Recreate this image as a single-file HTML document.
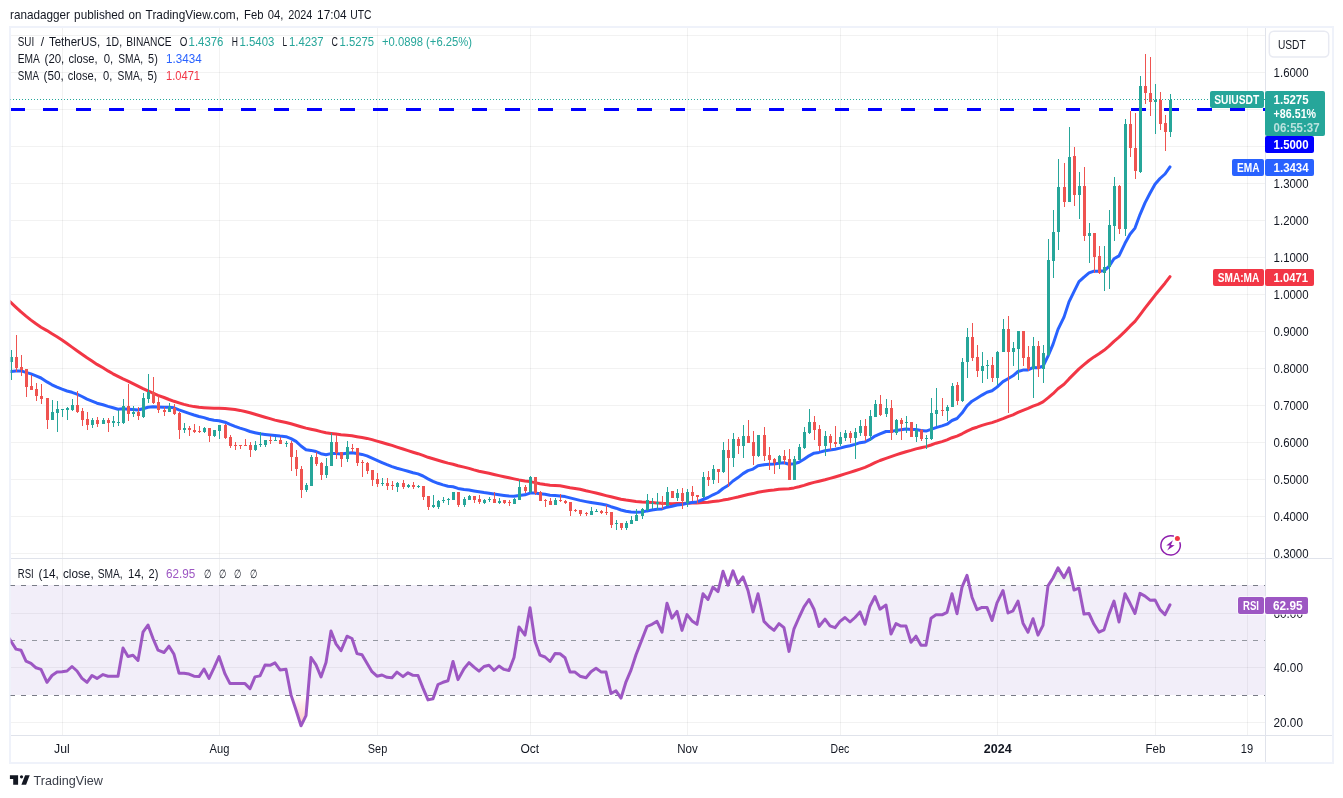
<!DOCTYPE html>
<html lang="en"><head><meta charset="utf-8"><title>SUIUSDT chart</title>
<style>html,body{margin:0;padding:0;background:#fff}body{width:1343px;height:798px;overflow:hidden;position:relative}svg{position:absolute;left:0;top:0;display:block;will-change:transform}text{font-family:"Liberation Sans", sans-serif;white-space:pre}</style></head><body>
<svg width="1343" height="798" viewBox="0 0 1343 798">
<defs>
<clipPath id="cm"><rect x="10" y="28" width="1255" height="530"/></clipPath>
<clipPath id="cr"><rect x="10" y="559" width="1255" height="176"/></clipPath>
<linearGradient id="gob" x1="0" y1="559" x2="0" y2="585" gradientUnits="userSpaceOnUse"><stop offset="0" stop-color="#4caf50" stop-opacity="0.35"/><stop offset="1" stop-color="#4caf50" stop-opacity="0"/></linearGradient>
<linearGradient id="gos" x1="0" y1="695" x2="0" y2="735" gradientUnits="userSpaceOnUse"><stop offset="0" stop-color="#ff5252" stop-opacity="0"/><stop offset="1" stop-color="#ff5252" stop-opacity="0.45"/></linearGradient>
</defs>
<rect x="0" y="0" width="1343" height="798" fill="#fff"/>
<text x="10.1" y="18.7" font-size="13" fill="#131722" textLength="59.8" lengthAdjust="spacingAndGlyphs">ranadagger</text>
<text x="74.1" y="18.7" font-size="13" fill="#131722" textLength="50.3" lengthAdjust="spacingAndGlyphs">published</text>
<text x="128.5" y="18.7" font-size="13" fill="#131722" textLength="12.9" lengthAdjust="spacingAndGlyphs">on</text>
<text x="145.6" y="18.7" font-size="13" fill="#131722" textLength="93.4" lengthAdjust="spacingAndGlyphs">TradingView.com,</text>
<text x="244.1" y="18.7" font-size="13" fill="#131722" textLength="19.4" lengthAdjust="spacingAndGlyphs">Feb</text>
<text x="267.8" y="18.7" font-size="13" fill="#131722" textLength="15.7" lengthAdjust="spacingAndGlyphs">04,</text>
<text x="288.2" y="18.7" font-size="13" fill="#131722" textLength="24.1" lengthAdjust="spacingAndGlyphs">2024</text>
<text x="317.1" y="18.7" font-size="13" fill="#131722" textLength="29.6" lengthAdjust="spacingAndGlyphs">17:04</text>
<text x="350.2" y="18.7" font-size="13" fill="#131722" textLength="21.3" lengthAdjust="spacingAndGlyphs">UTC</text>
<g shape-rendering="crispEdges" fill="#283232" fill-opacity="0.062">
<rect x="62" y="28" width="1" height="530"/>
<rect x="62" y="559" width="1" height="176"/>
<rect x="219" y="28" width="1" height="530"/>
<rect x="219" y="559" width="1" height="176"/>
<rect x="377" y="28" width="1" height="530"/>
<rect x="377" y="559" width="1" height="176"/>
<rect x="530" y="28" width="1" height="530"/>
<rect x="530" y="559" width="1" height="176"/>
<rect x="687" y="28" width="1" height="530"/>
<rect x="687" y="559" width="1" height="176"/>
<rect x="840" y="28" width="1" height="530"/>
<rect x="840" y="559" width="1" height="176"/>
<rect x="997" y="28" width="1" height="530"/>
<rect x="997" y="559" width="1" height="176"/>
<rect x="1155" y="28" width="1" height="530"/>
<rect x="1155" y="559" width="1" height="176"/>
<rect x="1247" y="28" width="1" height="530"/>
<rect x="1247" y="559" width="1" height="176"/>
<rect x="11" y="35" width="1254" height="1"/>
<rect x="11" y="72" width="1254" height="1"/>
<rect x="11" y="109" width="1254" height="1"/>
<rect x="11" y="146" width="1254" height="1"/>
<rect x="11" y="183" width="1254" height="1"/>
<rect x="11" y="220" width="1254" height="1"/>
<rect x="11" y="257" width="1254" height="1"/>
<rect x="11" y="294" width="1254" height="1"/>
<rect x="11" y="331" width="1254" height="1"/>
<rect x="11" y="368" width="1254" height="1"/>
<rect x="11" y="405" width="1254" height="1"/>
<rect x="11" y="442" width="1254" height="1"/>
<rect x="11" y="479" width="1254" height="1"/>
<rect x="11" y="516" width="1254" height="1"/>
<rect x="11" y="553" width="1254" height="1"/>
<rect x="11" y="613" width="1254" height="1"/>
<rect x="11" y="667" width="1254" height="1"/>
<rect x="11" y="722" width="1254" height="1"/>
</g>
<rect x="11" y="585" width="1254" height="110" fill="#7e57c2" fill-opacity="0.1"/>
<g shape-rendering="crispEdges" fill="#e0e3eb">
<rect x="11" y="558" width="1321" height="1"/>
<rect x="11" y="735" width="1321" height="1"/>
<rect x="1265" y="28" width="1" height="734"/>
</g>
<line x1="10" y1="585.5" x2="1265" y2="585.5" stroke="#787b86" stroke-width="1" stroke-dasharray="5 6" shape-rendering="crispEdges"/>
<line x1="10" y1="640.5" x2="1265" y2="640.5" stroke="#9598a1" stroke-width="1" stroke-dasharray="5 6" shape-rendering="crispEdges"/>
<line x1="10" y1="695.5" x2="1265" y2="695.5" stroke="#787b86" stroke-width="1" stroke-dasharray="5 6" shape-rendering="crispEdges"/>
<g clip-path="url(#cm)">
<line x1="10.5" y1="109.5" x2="1265" y2="109.5" stroke="#0000ff" stroke-width="3" stroke-dasharray="14.7 18.27" shape-rendering="crispEdges"/>
<polyline points="5.9,298.0 11.0,302.7 16.0,307.4 21.0,311.9 26.0,316.1 31.0,320.1 36.0,323.8 41.0,327.2 47.0,330.6 52.0,333.8 57.0,336.8 62.0,340.0 67.0,343.5 72.0,347.1 77.0,350.7 82.0,354.3 87.0,357.8 92.0,361.1 97.0,364.4 103.0,367.8 108.0,370.9 113.0,373.8 118.0,376.4 123.0,378.9 128.0,381.2 133.0,383.6 138.0,386.1 143.0,388.6 148.0,390.9 153.0,393.1 158.0,395.4 164.0,397.5 169.0,399.5 174.0,401.3 179.0,402.9 184.0,404.4 189.0,405.6 194.0,406.6 199.0,407.3 204.0,407.7 209.0,408.0 214.0,408.2 219.0,408.3 225.0,408.5 230.0,408.9 235.0,409.5 240.0,410.4 245.0,411.5 250.0,412.7 255.0,414.2 260.0,415.7 265.0,417.2 270.0,418.6 275.0,420.1 280.0,421.2 286.0,422.5 291.0,423.8 296.0,425.2 301.0,426.7 306.0,428.1 311.0,429.2 316.0,430.3 321.0,431.6 326.0,432.8 331.0,433.5 336.0,434.1 341.0,434.8 347.0,435.3 352.0,435.8 357.0,436.7 362.0,437.5 367.0,438.4 372.0,439.6 377.0,441.1 382.0,442.5 387.0,444.0 392.0,445.4 397.0,447.1 403.0,449.0 408.0,450.6 413.0,452.2 418.0,453.7 423.0,455.4 428.0,457.3 433.0,458.8 438.0,460.3 443.0,461.7 448.0,463.1 453.0,464.3 458.0,465.8 464.0,467.1 469.0,468.4 474.0,469.9 479.0,471.2 484.0,472.3 489.0,473.3 494.0,474.5 499.0,475.6 504.0,476.7 509.0,477.8 514.0,478.9 519.0,479.9 525.0,480.9 530.0,481.6 535.0,482.6 540.0,483.7 545.0,484.6 550.0,485.3 555.0,485.5 560.0,485.8 565.0,486.7 570.0,487.7 575.0,488.4 580.0,489.3 586.0,490.8 591.0,491.9 596.0,493.0 601.0,494.3 606.0,495.6 611.0,496.8 616.0,498.0 621.0,499.2 626.0,500.1 631.0,500.8 636.0,501.4 642.0,501.9 647.0,502.2 652.0,502.6 657.0,502.9 662.0,503.3 667.0,503.5 672.0,503.7 677.0,503.6 682.0,503.5 687.0,503.2 692.0,503.1 697.0,503.0 703.0,502.6 708.0,502.3 713.0,501.6 718.0,501.1 723.0,500.1 728.0,499.3 733.0,498.1 738.0,497.0 743.0,495.7 748.0,494.5 753.0,493.6 758.0,492.2 764.0,491.3 769.0,490.5 774.0,490.0 779.0,489.3 784.0,489.0 789.0,488.7 794.0,487.9 799.0,486.8 804.0,485.4 809.0,483.8 814.0,482.4 819.0,481.2 825.0,479.8 830.0,478.4 835.0,477.0 840.0,475.5 845.0,473.9 850.0,472.4 855.0,470.8 860.0,469.1 865.0,467.3 870.0,465.2 875.0,462.7 880.0,460.5 886.0,458.3 891.0,456.6 896.0,454.9 901.0,453.3 906.0,451.7 911.0,450.4 916.0,448.9 921.0,447.8 926.0,446.6 931.0,445.0 936.0,443.2 942.0,441.6 947.0,439.8 952.0,437.7 957.0,436.1 962.0,433.8 967.0,431.1 972.0,428.8 977.0,427.2 982.0,425.4 987.0,423.9 992.0,422.6 997.0,420.9 1003.0,418.7 1008.0,416.6 1013.0,414.8 1018.0,412.4 1023.0,410.3 1028.0,408.4 1033.0,406.2 1038.0,404.4 1043.0,401.9 1048.0,397.9 1053.0,393.7 1058.0,388.7 1064.0,384.3 1069.0,378.9 1074.0,373.9 1079.0,368.9 1084.0,364.7 1089.0,360.5 1094.0,356.9 1099.0,353.7 1104.0,350.3 1109.0,346.1 1114.0,341.3 1119.0,337.2 1125.0,331.4 1130.0,326.2 1135.0,321.4 1140.0,314.9 1145.0,308.1 1150.0,301.8 1155.0,295.3 1160.0,289.3 1165.0,283.2 1170.0,276.6" fill="none" stroke="#f23645" stroke-width="3" stroke-linejoin="round" stroke-linecap="round"/>
<polyline points="5.9,371.9 11.0,371.5 16.0,371.1 21.0,370.9 26.0,372.4 31.0,373.9 36.0,375.9 41.0,378.0 47.0,381.9 52.0,384.8 57.0,387.1 62.0,389.2 67.0,391.0 72.0,392.3 77.0,394.1 82.0,396.5 87.0,399.1 92.0,401.1 97.0,403.2 103.0,404.8 108.0,406.4 113.0,407.8 118.0,409.2 123.0,408.8 128.0,409.2 133.0,409.5 138.0,410.0 143.0,408.8 148.0,407.2 153.0,406.7 158.0,407.0 164.0,407.3 169.0,407.3 174.0,407.8 179.0,409.8 184.0,411.6 189.0,413.3 194.0,415.0 199.0,416.5 204.0,417.6 209.0,419.2 214.0,420.3 219.0,420.7 225.0,422.2 230.0,424.4 235.0,426.4 240.0,428.1 245.0,429.6 250.0,431.5 255.0,432.7 260.0,433.8 265.0,434.4 270.0,434.9 275.0,435.4 280.0,436.1 286.0,436.7 291.0,438.6 296.0,441.4 301.0,446.0 306.0,449.7 311.0,450.4 316.0,451.5 321.0,453.7 326.0,454.8 331.0,453.6 336.0,453.5 341.0,453.9 347.0,453.2 352.0,452.7 357.0,453.6 362.0,454.4 367.0,455.9 372.0,458.1 377.0,460.4 382.0,462.6 387.0,464.7 392.0,466.6 397.0,468.2 403.0,469.9 408.0,471.3 413.0,472.7 418.0,473.9 423.0,476.0 428.0,478.9 433.0,481.4 438.0,483.3 443.0,484.9 448.0,486.2 453.0,486.8 458.0,488.4 464.0,489.4 469.0,490.0 474.0,490.9 479.0,491.8 484.0,492.6 489.0,493.2 494.0,494.0 499.0,494.7 504.0,495.4 509.0,496.0 514.0,496.3 519.0,495.4 525.0,494.8 530.0,493.1 535.0,493.0 540.0,493.7 545.0,494.3 550.0,495.2 555.0,495.6 560.0,496.1 565.0,496.6 570.0,497.9 575.0,499.1 580.0,500.4 586.0,501.6 591.0,502.5 596.0,503.3 601.0,504.1 606.0,504.9 611.0,506.7 616.0,508.2 621.0,510.0 626.0,511.2 631.0,512.1 636.0,512.3 642.0,512.0 647.0,510.9 652.0,510.1 657.0,509.3 662.0,508.9 667.0,507.2 672.0,506.3 677.0,505.0 682.0,504.5 687.0,503.3 692.0,502.5 697.0,501.9 703.0,499.5 708.0,497.5 713.0,494.8 718.0,492.5 723.0,488.5 728.0,485.5 733.0,481.0 738.0,477.6 743.0,473.6 748.0,470.6 753.0,469.1 758.0,465.8 764.0,464.8 769.0,464.2 774.0,464.0 779.0,463.2 784.0,462.8 789.0,464.3 794.0,463.8 799.0,462.2 804.0,459.3 809.0,455.8 814.0,453.2 819.0,452.4 825.0,450.8 830.0,450.0 835.0,449.3 840.0,448.1 845.0,446.7 850.0,445.7 855.0,444.4 860.0,442.7 865.0,441.9 870.0,439.4 875.0,436.1 880.0,433.9 886.0,431.5 891.0,431.5 896.0,430.4 901.0,429.7 906.0,428.9 911.0,429.6 916.0,429.6 921.0,430.4 926.0,431.1 931.0,429.4 936.0,427.6 942.0,425.9 947.0,424.2 952.0,420.5 957.0,418.5 962.0,413.1 967.0,405.9 972.0,401.2 977.0,398.2 982.0,395.1 987.0,392.2 992.0,390.8 997.0,387.1 1003.0,381.6 1008.0,378.7 1013.0,375.8 1018.0,371.5 1023.0,370.1 1028.0,369.9 1033.0,367.6 1038.0,367.7 1043.0,366.3 1048.0,356.2 1053.0,344.4 1058.0,329.4 1064.0,317.1 1069.0,301.9 1074.0,291.6 1079.0,281.6 1084.0,277.1 1089.0,272.9 1094.0,271.2 1099.0,271.3 1104.0,270.8 1109.0,266.5 1114.0,258.8 1119.0,255.9 1125.0,243.3 1130.0,234.2 1135.0,228.1 1140.0,214.6 1145.0,202.9 1150.0,193.3 1155.0,184.3 1160.0,178.5 1165.0,174.0 1170.0,166.9" fill="none" stroke="#2962ff" stroke-width="3" stroke-linejoin="round" stroke-linecap="round"/>
<g shape-rendering="crispEdges" fill="#ef5350"><rect x="16" y="335" width="1" height="37"/><rect x="15" y="357" width="3" height="11"/><rect x="21" y="355" width="1" height="21"/><rect x="20" y="367" width="3" height="3"/><rect x="26" y="369" width="1" height="28"/><rect x="25" y="369" width="3" height="18"/><rect x="31" y="375" width="1" height="15"/><rect x="30" y="386" width="3" height="4"/><rect x="36" y="383" width="1" height="18"/><rect x="35" y="389" width="3" height="7"/><rect x="41" y="384" width="1" height="20"/><rect x="40" y="396" width="3" height="3"/><rect x="47" y="398" width="1" height="31"/><rect x="46" y="398" width="3" height="22"/><rect x="77" y="391" width="1" height="22"/><rect x="76" y="405" width="3" height="7"/><rect x="82" y="408" width="1" height="18"/><rect x="81" y="411" width="3" height="9"/><rect x="87" y="412" width="1" height="18"/><rect x="86" y="419" width="3" height="6"/><rect x="97" y="417" width="1" height="10"/><rect x="96" y="420" width="3" height="4"/><rect x="108" y="418" width="1" height="14"/><rect x="107" y="420" width="3" height="3"/><rect x="128" y="384" width="1" height="37"/><rect x="127" y="406" width="3" height="8"/><rect x="138" y="407" width="1" height="13"/><rect x="137" y="412" width="3" height="4"/><rect x="153" y="377" width="1" height="27"/><rect x="152" y="392" width="3" height="11"/><rect x="158" y="396" width="1" height="17"/><rect x="157" y="402" width="3" height="8"/><rect x="164" y="407" width="1" height="9"/><rect x="163" y="410" width="3" height="2"/><rect x="174" y="404" width="1" height="11"/><rect x="173" y="408" width="3" height="6"/><rect x="179" y="412" width="1" height="27"/><rect x="178" y="413" width="3" height="17"/><rect x="189" y="426" width="1" height="10"/><rect x="188" y="428" width="3" height="2"/><rect x="194" y="424" width="1" height="9"/><rect x="193" y="430" width="3" height="2"/><rect x="199" y="426" width="1" height="7"/><rect x="198" y="431" width="3" height="1"/><rect x="209" y="428" width="1" height="14"/><rect x="208" y="428" width="3" height="8"/><rect x="225" y="424" width="1" height="15"/><rect x="224" y="425" width="3" height="13"/><rect x="230" y="435" width="1" height="13"/><rect x="229" y="437" width="3" height="9"/><rect x="235" y="442" width="1" height="8"/><rect x="234" y="445" width="3" height="1"/><rect x="240" y="445" width="1" height="4"/><rect x="239" y="445" width="3" height="1"/><rect x="245" y="439" width="1" height="7"/><rect x="244" y="445" width="3" height="1"/><rect x="250" y="442" width="1" height="15"/><rect x="249" y="445" width="3" height="5"/><rect x="270" y="436" width="1" height="8"/><rect x="269" y="440" width="3" height="1"/><rect x="280" y="437" width="1" height="7"/><rect x="279" y="440" width="3" height="4"/><rect x="291" y="441" width="1" height="30"/><rect x="290" y="443" width="3" height="14"/><rect x="296" y="450" width="1" height="26"/><rect x="295" y="457" width="3" height="12"/><rect x="301" y="466" width="1" height="32"/><rect x="300" y="469" width="3" height="21"/><rect x="316" y="452" width="1" height="14"/><rect x="315" y="457" width="3" height="7"/><rect x="321" y="462" width="1" height="18"/><rect x="320" y="463" width="3" height="12"/><rect x="336" y="435" width="1" height="24"/><rect x="335" y="442" width="3" height="11"/><rect x="341" y="452" width="1" height="15"/><rect x="340" y="452" width="3" height="7"/><rect x="352" y="444" width="1" height="8"/><rect x="351" y="448" width="3" height="1"/><rect x="357" y="448" width="1" height="18"/><rect x="356" y="448" width="3" height="15"/><rect x="362" y="460" width="1" height="17"/><rect x="361" y="462" width="3" height="1"/><rect x="367" y="462" width="1" height="12"/><rect x="366" y="463" width="3" height="8"/><rect x="372" y="470" width="1" height="16"/><rect x="371" y="470" width="3" height="10"/><rect x="377" y="473" width="1" height="14"/><rect x="376" y="479" width="3" height="5"/><rect x="387" y="478" width="1" height="12"/><rect x="386" y="483" width="3" height="3"/><rect x="392" y="481" width="1" height="9"/><rect x="391" y="485" width="3" height="1"/><rect x="403" y="480" width="1" height="9"/><rect x="402" y="483" width="3" height="4"/><rect x="413" y="482" width="1" height="7"/><rect x="412" y="485" width="3" height="2"/><rect x="423" y="486" width="1" height="14"/><rect x="422" y="486" width="3" height="11"/><rect x="428" y="496" width="1" height="14"/><rect x="427" y="496" width="3" height="11"/><rect x="458" y="492" width="1" height="15"/><rect x="457" y="492" width="3" height="13"/><rect x="474" y="496" width="1" height="7"/><rect x="473" y="496" width="3" height="4"/><rect x="479" y="495" width="1" height="9"/><rect x="478" y="499" width="3" height="3"/><rect x="494" y="492" width="1" height="11"/><rect x="493" y="499" width="3" height="4"/><rect x="504" y="500" width="1" height="4"/><rect x="503" y="500" width="3" height="3"/><rect x="509" y="500" width="1" height="6"/><rect x="508" y="502" width="3" height="1"/><rect x="525" y="485" width="1" height="8"/><rect x="524" y="487" width="3" height="4"/><rect x="535" y="477" width="1" height="18"/><rect x="534" y="477" width="3" height="16"/><rect x="540" y="491" width="1" height="10"/><rect x="539" y="492" width="3" height="9"/><rect x="545" y="499" width="1" height="8"/><rect x="544" y="500" width="3" height="1"/><rect x="550" y="498" width="1" height="7"/><rect x="549" y="501" width="3" height="4"/><rect x="560" y="494" width="1" height="8"/><rect x="559" y="500" width="3" height="1"/><rect x="565" y="500" width="1" height="4"/><rect x="564" y="501" width="3" height="2"/><rect x="570" y="502" width="1" height="14"/><rect x="569" y="502" width="3" height="9"/><rect x="575" y="509" width="1" height="3"/><rect x="574" y="510" width="3" height="1"/><rect x="580" y="510" width="1" height="6"/><rect x="579" y="510" width="3" height="4"/><rect x="586" y="512" width="1" height="4"/><rect x="585" y="513" width="3" height="1"/><rect x="601" y="510" width="1" height="4"/><rect x="600" y="511" width="3" height="2"/><rect x="606" y="505" width="1" height="10"/><rect x="605" y="512" width="3" height="1"/><rect x="611" y="512" width="1" height="16"/><rect x="610" y="512" width="3" height="13"/><rect x="621" y="523" width="1" height="7"/><rect x="620" y="523" width="3" height="5"/><rect x="662" y="496" width="1" height="13"/><rect x="661" y="502" width="3" height="3"/><rect x="672" y="491" width="1" height="7"/><rect x="671" y="491" width="3" height="7"/><rect x="682" y="488" width="1" height="21"/><rect x="681" y="493" width="3" height="8"/><rect x="692" y="486" width="1" height="15"/><rect x="691" y="492" width="3" height="4"/><rect x="697" y="495" width="1" height="9"/><rect x="696" y="495" width="3" height="2"/><rect x="708" y="471" width="1" height="15"/><rect x="707" y="477" width="3" height="3"/><rect x="718" y="469" width="1" height="14"/><rect x="717" y="469" width="3" height="3"/><rect x="728" y="439" width="1" height="48"/><rect x="727" y="450" width="3" height="8"/><rect x="738" y="437" width="1" height="17"/><rect x="737" y="439" width="3" height="7"/><rect x="748" y="420" width="1" height="23"/><rect x="747" y="436" width="3" height="7"/><rect x="753" y="431" width="1" height="34"/><rect x="752" y="442" width="3" height="14"/><rect x="764" y="427" width="1" height="34"/><rect x="763" y="435" width="3" height="21"/><rect x="769" y="447" width="1" height="23"/><rect x="768" y="455" width="3" height="5"/><rect x="774" y="458" width="1" height="16"/><rect x="773" y="459" width="3" height="4"/><rect x="784" y="450" width="1" height="14"/><rect x="783" y="456" width="3" height="4"/><rect x="789" y="449" width="1" height="31"/><rect x="788" y="459" width="3" height="21"/><rect x="814" y="416" width="1" height="24"/><rect x="813" y="422" width="3" height="8"/><rect x="819" y="425" width="1" height="26"/><rect x="818" y="429" width="3" height="17"/><rect x="830" y="434" width="1" height="16"/><rect x="829" y="436" width="3" height="7"/><rect x="835" y="426" width="1" height="21"/><rect x="834" y="442" width="3" height="2"/><rect x="850" y="431" width="1" height="12"/><rect x="849" y="433" width="3" height="5"/><rect x="865" y="419" width="1" height="22"/><rect x="864" y="426" width="3" height="10"/><rect x="880" y="395" width="1" height="21"/><rect x="879" y="404" width="3" height="11"/><rect x="891" y="400" width="1" height="40"/><rect x="890" y="408" width="3" height="25"/><rect x="901" y="418" width="1" height="22"/><rect x="900" y="420" width="3" height="4"/><rect x="911" y="422" width="1" height="15"/><rect x="910" y="422" width="3" height="15"/><rect x="921" y="429" width="1" height="12"/><rect x="920" y="430" width="3" height="9"/><rect x="942" y="398" width="1" height="18"/><rect x="941" y="410" width="3" height="1"/><rect x="957" y="382" width="1" height="23"/><rect x="956" y="385" width="3" height="16"/><rect x="972" y="323" width="1" height="38"/><rect x="971" y="337" width="3" height="21"/><rect x="977" y="345" width="1" height="32"/><rect x="976" y="357" width="3" height="14"/><rect x="992" y="357" width="1" height="25"/><rect x="991" y="365" width="3" height="13"/><rect x="1008" y="316" width="1" height="97"/><rect x="1007" y="329" width="3" height="23"/><rect x="1023" y="331" width="1" height="35"/><rect x="1022" y="331" width="3" height="27"/><rect x="1028" y="346" width="1" height="25"/><rect x="1027" y="357" width="3" height="12"/><rect x="1038" y="341" width="1" height="36"/><rect x="1037" y="346" width="3" height="23"/><rect x="1064" y="163" width="1" height="44"/><rect x="1063" y="187" width="3" height="15"/><rect x="1074" y="147" width="1" height="59"/><rect x="1073" y="156" width="3" height="39"/><rect x="1084" y="167" width="1" height="74"/><rect x="1083" y="186" width="3" height="50"/><rect x="1094" y="233" width="1" height="40"/><rect x="1093" y="233" width="3" height="24"/><rect x="1099" y="246" width="1" height="28"/><rect x="1098" y="256" width="3" height="17"/><rect x="1119" y="185" width="1" height="49"/><rect x="1118" y="186" width="3" height="43"/><rect x="1130" y="111" width="1" height="46"/><rect x="1129" y="124" width="3" height="24"/><rect x="1135" y="113" width="1" height="66"/><rect x="1134" y="148" width="3" height="23"/><rect x="1145" y="54" width="1" height="50"/><rect x="1144" y="86" width="3" height="7"/><rect x="1150" y="57" width="1" height="59"/><rect x="1149" y="93" width="3" height="9"/><rect x="1160" y="92" width="1" height="38"/><rect x="1159" y="100" width="3" height="24"/><rect x="1165" y="115" width="1" height="36"/><rect x="1164" y="123" width="3" height="9"/></g>
<g shape-rendering="crispEdges" fill="#26a69a"><rect x="11" y="350" width="1" height="30"/><rect x="10" y="357" width="3" height="5"/><rect x="52" y="400" width="1" height="20"/><rect x="51" y="412" width="3" height="8"/><rect x="57" y="401" width="1" height="31"/><rect x="56" y="409" width="3" height="4"/><rect x="62" y="409" width="1" height="8"/><rect x="61" y="409" width="3" height="1"/><rect x="67" y="407" width="1" height="13"/><rect x="66" y="408" width="3" height="2"/><rect x="72" y="399" width="1" height="12"/><rect x="71" y="405" width="3" height="5"/><rect x="92" y="418" width="1" height="10"/><rect x="91" y="420" width="3" height="5"/><rect x="103" y="418" width="1" height="6"/><rect x="102" y="420" width="3" height="4"/><rect x="113" y="416" width="1" height="11"/><rect x="112" y="421" width="3" height="2"/><rect x="118" y="410" width="1" height="16"/><rect x="117" y="422" width="3" height="1"/><rect x="123" y="399" width="1" height="25"/><rect x="122" y="406" width="3" height="17"/><rect x="133" y="406" width="1" height="11"/><rect x="132" y="412" width="3" height="2"/><rect x="143" y="393" width="1" height="25"/><rect x="142" y="398" width="3" height="19"/><rect x="148" y="374" width="1" height="29"/><rect x="147" y="392" width="3" height="7"/><rect x="169" y="403" width="1" height="9"/><rect x="168" y="407" width="3" height="5"/><rect x="184" y="423" width="1" height="10"/><rect x="183" y="428" width="3" height="2"/><rect x="204" y="427" width="1" height="6"/><rect x="203" y="428" width="3" height="4"/><rect x="214" y="430" width="1" height="7"/><rect x="213" y="430" width="3" height="6"/><rect x="219" y="425" width="1" height="14"/><rect x="218" y="425" width="3" height="6"/><rect x="255" y="441" width="1" height="10"/><rect x="254" y="445" width="3" height="5"/><rect x="260" y="432" width="1" height="15"/><rect x="259" y="444" width="3" height="1"/><rect x="265" y="440" width="1" height="7"/><rect x="264" y="440" width="3" height="5"/><rect x="275" y="437" width="1" height="4"/><rect x="274" y="440" width="3" height="1"/><rect x="286" y="441" width="1" height="6"/><rect x="285" y="443" width="3" height="1"/><rect x="306" y="483" width="1" height="9"/><rect x="305" y="485" width="3" height="5"/><rect x="311" y="455" width="1" height="31"/><rect x="310" y="457" width="3" height="29"/><rect x="326" y="458" width="1" height="20"/><rect x="325" y="466" width="3" height="9"/><rect x="331" y="433" width="1" height="33"/><rect x="330" y="442" width="3" height="24"/><rect x="347" y="441" width="1" height="21"/><rect x="346" y="447" width="3" height="12"/><rect x="382" y="478" width="1" height="8"/><rect x="381" y="483" width="3" height="1"/><rect x="397" y="482" width="1" height="10"/><rect x="396" y="483" width="3" height="4"/><rect x="408" y="484" width="1" height="4"/><rect x="407" y="485" width="3" height="2"/><rect x="418" y="485" width="1" height="3"/><rect x="417" y="486" width="3" height="1"/><rect x="433" y="495" width="1" height="13"/><rect x="432" y="505" width="3" height="2"/><rect x="438" y="500" width="1" height="9"/><rect x="437" y="501" width="3" height="6"/><rect x="443" y="497" width="1" height="6"/><rect x="442" y="500" width="3" height="1"/><rect x="448" y="498" width="1" height="7"/><rect x="447" y="499" width="3" height="1"/><rect x="453" y="492" width="1" height="8"/><rect x="452" y="492" width="3" height="8"/><rect x="464" y="497" width="1" height="10"/><rect x="463" y="499" width="3" height="6"/><rect x="469" y="495" width="1" height="5"/><rect x="468" y="496" width="3" height="4"/><rect x="484" y="499" width="1" height="5"/><rect x="483" y="500" width="3" height="3"/><rect x="489" y="497" width="1" height="5"/><rect x="488" y="499" width="3" height="1"/><rect x="499" y="498" width="1" height="6"/><rect x="498" y="501" width="3" height="2"/><rect x="514" y="498" width="1" height="6"/><rect x="513" y="499" width="3" height="5"/><rect x="519" y="480" width="1" height="20"/><rect x="518" y="487" width="3" height="13"/><rect x="530" y="476" width="1" height="17"/><rect x="529" y="477" width="3" height="15"/><rect x="555" y="498" width="1" height="7"/><rect x="554" y="500" width="3" height="5"/><rect x="591" y="507" width="1" height="8"/><rect x="590" y="511" width="3" height="4"/><rect x="596" y="509" width="1" height="3"/><rect x="595" y="511" width="3" height="1"/><rect x="616" y="520" width="1" height="10"/><rect x="615" y="523" width="3" height="1"/><rect x="626" y="521" width="1" height="9"/><rect x="625" y="523" width="3" height="5"/><rect x="631" y="516" width="1" height="8"/><rect x="630" y="520" width="3" height="4"/><rect x="636" y="509" width="1" height="12"/><rect x="635" y="515" width="3" height="6"/><rect x="642" y="508" width="1" height="11"/><rect x="641" y="509" width="3" height="7"/><rect x="647" y="494" width="1" height="17"/><rect x="646" y="500" width="3" height="10"/><rect x="652" y="498" width="1" height="11"/><rect x="651" y="503" width="3" height="1"/><rect x="657" y="493" width="1" height="17"/><rect x="656" y="502" width="3" height="2"/><rect x="667" y="487" width="1" height="19"/><rect x="666" y="492" width="3" height="14"/><rect x="677" y="489" width="1" height="12"/><rect x="676" y="493" width="3" height="5"/><rect x="687" y="489" width="1" height="18"/><rect x="686" y="492" width="3" height="11"/><rect x="703" y="472" width="1" height="26"/><rect x="702" y="477" width="3" height="20"/><rect x="713" y="465" width="1" height="19"/><rect x="712" y="469" width="3" height="11"/><rect x="723" y="442" width="1" height="31"/><rect x="722" y="450" width="3" height="22"/><rect x="733" y="433" width="1" height="34"/><rect x="732" y="439" width="3" height="19"/><rect x="743" y="425" width="1" height="33"/><rect x="742" y="436" width="3" height="10"/><rect x="758" y="435" width="1" height="22"/><rect x="757" y="435" width="3" height="21"/><rect x="779" y="455" width="1" height="14"/><rect x="778" y="456" width="3" height="7"/><rect x="794" y="456" width="1" height="24"/><rect x="793" y="459" width="3" height="21"/><rect x="799" y="444" width="1" height="16"/><rect x="798" y="447" width="3" height="13"/><rect x="804" y="427" width="1" height="22"/><rect x="803" y="432" width="3" height="16"/><rect x="809" y="409" width="1" height="25"/><rect x="808" y="422" width="3" height="11"/><rect x="825" y="431" width="1" height="25"/><rect x="824" y="436" width="3" height="10"/><rect x="840" y="432" width="1" height="14"/><rect x="839" y="437" width="3" height="7"/><rect x="845" y="430" width="1" height="11"/><rect x="844" y="433" width="3" height="5"/><rect x="855" y="428" width="1" height="31"/><rect x="854" y="432" width="3" height="6"/><rect x="860" y="420" width="1" height="16"/><rect x="859" y="426" width="3" height="7"/><rect x="870" y="410" width="1" height="31"/><rect x="869" y="416" width="3" height="20"/><rect x="875" y="400" width="1" height="17"/><rect x="874" y="404" width="3" height="13"/><rect x="886" y="399" width="1" height="18"/><rect x="885" y="408" width="3" height="6"/><rect x="896" y="419" width="1" height="16"/><rect x="895" y="420" width="3" height="13"/><rect x="906" y="416" width="1" height="17"/><rect x="905" y="422" width="3" height="1"/><rect x="916" y="424" width="1" height="18"/><rect x="915" y="430" width="3" height="7"/><rect x="926" y="435" width="1" height="14"/><rect x="925" y="438" width="3" height="1"/><rect x="931" y="398" width="1" height="42"/><rect x="930" y="413" width="3" height="26"/><rect x="936" y="388" width="1" height="38"/><rect x="935" y="410" width="3" height="4"/><rect x="947" y="405" width="1" height="16"/><rect x="946" y="407" width="3" height="4"/><rect x="952" y="383" width="1" height="24"/><rect x="951" y="386" width="3" height="21"/><rect x="962" y="358" width="1" height="44"/><rect x="961" y="362" width="3" height="39"/><rect x="967" y="328" width="1" height="50"/><rect x="966" y="337" width="3" height="25"/><rect x="982" y="352" width="1" height="31"/><rect x="981" y="366" width="3" height="5"/><rect x="987" y="360" width="1" height="19"/><rect x="986" y="365" width="3" height="1"/><rect x="997" y="351" width="1" height="34"/><rect x="996" y="352" width="3" height="26"/><rect x="1003" y="319" width="1" height="33"/><rect x="1002" y="329" width="3" height="23"/><rect x="1013" y="342" width="1" height="24"/><rect x="1012" y="348" width="3" height="4"/><rect x="1018" y="331" width="1" height="49"/><rect x="1017" y="331" width="3" height="18"/><rect x="1033" y="337" width="1" height="61"/><rect x="1032" y="346" width="3" height="23"/><rect x="1043" y="345" width="1" height="38"/><rect x="1042" y="353" width="3" height="16"/><rect x="1048" y="239" width="1" height="117"/><rect x="1047" y="260" width="3" height="95"/><rect x="1053" y="210" width="1" height="68"/><rect x="1052" y="232" width="3" height="29"/><rect x="1058" y="159" width="1" height="91"/><rect x="1057" y="187" width="3" height="45"/><rect x="1069" y="127" width="1" height="75"/><rect x="1068" y="157" width="3" height="45"/><rect x="1079" y="172" width="1" height="47"/><rect x="1078" y="186" width="3" height="9"/><rect x="1089" y="223" width="1" height="40"/><rect x="1088" y="233" width="3" height="3"/><rect x="1104" y="246" width="1" height="45"/><rect x="1103" y="267" width="3" height="6"/><rect x="1109" y="210" width="1" height="79"/><rect x="1108" y="225" width="3" height="42"/><rect x="1114" y="177" width="1" height="64"/><rect x="1113" y="186" width="3" height="40"/><rect x="1125" y="119" width="1" height="117"/><rect x="1124" y="124" width="3" height="105"/><rect x="1140" y="76" width="1" height="97"/><rect x="1139" y="86" width="3" height="86"/><rect x="1155" y="84" width="1" height="50"/><rect x="1154" y="100" width="3" height="2"/><rect x="1170" y="94" width="1" height="43"/><rect x="1169" y="100" width="3" height="32"/></g>
<line x1="10" y1="99.5" x2="1265" y2="99.5" stroke="#26a69a" stroke-width="1" stroke-dasharray="1 2" shape-rendering="crispEdges"/>
</g>
<g clip-path="url(#cr)">
<polygon points="11,585 11.0,585.0 16.0,585.0 21.0,585.0 26.0,585.0 31.0,585.0 36.0,585.0 41.0,585.0 47.0,585.0 52.0,585.0 57.0,585.0 62.0,585.0 67.0,585.0 72.0,585.0 77.0,585.0 82.0,585.0 87.0,585.0 92.0,585.0 97.0,585.0 103.0,585.0 108.0,585.0 113.0,585.0 118.0,585.0 123.0,585.0 128.0,585.0 133.0,585.0 138.0,585.0 143.0,585.0 148.0,585.0 153.0,585.0 158.0,585.0 164.0,585.0 169.0,585.0 174.0,585.0 179.0,585.0 184.0,585.0 189.0,585.0 194.0,585.0 199.0,585.0 204.0,585.0 209.0,585.0 214.0,585.0 219.0,585.0 225.0,585.0 230.0,585.0 235.0,585.0 240.0,585.0 245.0,585.0 250.0,585.0 255.0,585.0 260.0,585.0 265.0,585.0 270.0,585.0 275.0,585.0 280.0,585.0 286.0,585.0 291.0,585.0 296.0,585.0 301.0,585.0 306.0,585.0 311.0,585.0 316.0,585.0 321.0,585.0 326.0,585.0 331.0,585.0 336.0,585.0 341.0,585.0 347.0,585.0 352.0,585.0 357.0,585.0 362.0,585.0 367.0,585.0 372.0,585.0 377.0,585.0 382.0,585.0 387.0,585.0 392.0,585.0 397.0,585.0 403.0,585.0 408.0,585.0 413.0,585.0 418.0,585.0 423.0,585.0 428.0,585.0 433.0,585.0 438.0,585.0 443.0,585.0 448.0,585.0 453.0,585.0 458.0,585.0 464.0,585.0 469.0,585.0 474.0,585.0 479.0,585.0 484.0,585.0 489.0,585.0 494.0,585.0 499.0,585.0 504.0,585.0 509.0,585.0 514.0,585.0 519.0,585.0 525.0,585.0 530.0,585.0 535.0,585.0 540.0,585.0 545.0,585.0 550.0,585.0 555.0,585.0 560.0,585.0 565.0,585.0 570.0,585.0 575.0,585.0 580.0,585.0 586.0,585.0 591.0,585.0 596.0,585.0 601.0,585.0 606.0,585.0 611.0,585.0 616.0,585.0 621.0,585.0 626.0,585.0 631.0,585.0 636.0,585.0 642.0,585.0 647.0,585.0 652.0,585.0 657.0,585.0 662.0,585.0 667.0,585.0 672.0,585.0 677.0,585.0 682.0,585.0 687.0,585.0 692.0,585.0 697.0,585.0 703.0,585.0 708.0,585.0 713.0,585.0 718.0,585.0 723.0,571.3 728.0,585.0 733.0,570.8 738.0,583.7 743.0,576.9 748.0,585.0 753.0,585.0 758.0,585.0 764.0,585.0 769.0,585.0 774.0,585.0 779.0,585.0 784.0,585.0 789.0,585.0 794.0,585.0 799.0,585.0 804.0,585.0 809.0,585.0 814.0,585.0 819.0,585.0 825.0,585.0 830.0,585.0 835.0,585.0 840.0,585.0 845.0,585.0 850.0,585.0 855.0,585.0 860.0,585.0 865.0,585.0 870.0,585.0 875.0,585.0 880.0,585.0 886.0,585.0 891.0,585.0 896.0,585.0 901.0,585.0 906.0,585.0 911.0,585.0 916.0,585.0 921.0,585.0 926.0,585.0 931.0,585.0 936.0,585.0 942.0,585.0 947.0,585.0 952.0,585.0 957.0,585.0 962.0,585.0 967.0,575.3 972.0,585.0 977.0,585.0 982.0,585.0 987.0,585.0 992.0,585.0 997.0,585.0 1003.0,585.0 1008.0,585.0 1013.0,585.0 1018.0,585.0 1023.0,585.0 1028.0,585.0 1033.0,585.0 1038.0,585.0 1043.0,585.0 1048.0,585.0 1053.0,578.0 1058.0,567.9 1064.0,577.6 1069.0,567.9 1074.0,585.0 1079.0,585.0 1084.0,585.0 1089.0,585.0 1094.0,585.0 1099.0,585.0 1104.0,585.0 1109.0,585.0 1114.0,585.0 1119.0,585.0 1125.0,585.0 1130.0,585.0 1135.0,585.0 1140.0,585.0 1145.0,585.0 1150.0,585.0 1155.0,585.0 1160.0,585.0 1165.0,585.0 1170.0,585.0 1170.0,585" fill="url(#gob)"/>
<polygon points="11,695 11.0,695.0 16.0,695.0 21.0,695.0 26.0,695.0 31.0,695.0 36.0,695.0 41.0,695.0 47.0,695.0 52.0,695.0 57.0,695.0 62.0,695.0 67.0,695.0 72.0,695.0 77.0,695.0 82.0,695.0 87.0,695.0 92.0,695.0 97.0,695.0 103.0,695.0 108.0,695.0 113.0,695.0 118.0,695.0 123.0,695.0 128.0,695.0 133.0,695.0 138.0,695.0 143.0,695.0 148.0,695.0 153.0,695.0 158.0,695.0 164.0,695.0 169.0,695.0 174.0,695.0 179.0,695.0 184.0,695.0 189.0,695.0 194.0,695.0 199.0,695.0 204.0,695.0 209.0,695.0 214.0,695.0 219.0,695.0 225.0,695.0 230.0,695.0 235.0,695.0 240.0,695.0 245.0,695.0 250.0,695.0 255.0,695.0 260.0,695.0 265.0,695.0 270.0,695.0 275.0,695.0 280.0,695.0 286.0,695.0 291.0,695.0 296.0,710.0 301.0,725.8 306.0,715.7 311.0,695.0 316.0,695.0 321.0,695.0 326.0,695.0 331.0,695.0 336.0,695.0 341.0,695.0 347.0,695.0 352.0,695.0 357.0,695.0 362.0,695.0 367.0,695.0 372.0,695.0 377.0,695.0 382.0,695.0 387.0,695.0 392.0,695.0 397.0,695.0 403.0,695.0 408.0,695.0 413.0,695.0 418.0,695.0 423.0,695.0 428.0,699.9 433.0,698.7 438.0,695.0 443.0,695.0 448.0,695.0 453.0,695.0 458.0,695.0 464.0,695.0 469.0,695.0 474.0,695.0 479.0,695.0 484.0,695.0 489.0,695.0 494.0,695.0 499.0,695.0 504.0,695.0 509.0,695.0 514.0,695.0 519.0,695.0 525.0,695.0 530.0,695.0 535.0,695.0 540.0,695.0 545.0,695.0 550.0,695.0 555.0,695.0 560.0,695.0 565.0,695.0 570.0,695.0 575.0,695.0 580.0,695.0 586.0,695.0 591.0,695.0 596.0,695.0 601.0,695.0 606.0,695.0 611.0,695.0 616.0,695.0 621.0,698.1 626.0,695.0 631.0,695.0 636.0,695.0 642.0,695.0 647.0,695.0 652.0,695.0 657.0,695.0 662.0,695.0 667.0,695.0 672.0,695.0 677.0,695.0 682.0,695.0 687.0,695.0 692.0,695.0 697.0,695.0 703.0,695.0 708.0,695.0 713.0,695.0 718.0,695.0 723.0,695.0 728.0,695.0 733.0,695.0 738.0,695.0 743.0,695.0 748.0,695.0 753.0,695.0 758.0,695.0 764.0,695.0 769.0,695.0 774.0,695.0 779.0,695.0 784.0,695.0 789.0,695.0 794.0,695.0 799.0,695.0 804.0,695.0 809.0,695.0 814.0,695.0 819.0,695.0 825.0,695.0 830.0,695.0 835.0,695.0 840.0,695.0 845.0,695.0 850.0,695.0 855.0,695.0 860.0,695.0 865.0,695.0 870.0,695.0 875.0,695.0 880.0,695.0 886.0,695.0 891.0,695.0 896.0,695.0 901.0,695.0 906.0,695.0 911.0,695.0 916.0,695.0 921.0,695.0 926.0,695.0 931.0,695.0 936.0,695.0 942.0,695.0 947.0,695.0 952.0,695.0 957.0,695.0 962.0,695.0 967.0,695.0 972.0,695.0 977.0,695.0 982.0,695.0 987.0,695.0 992.0,695.0 997.0,695.0 1003.0,695.0 1008.0,695.0 1013.0,695.0 1018.0,695.0 1023.0,695.0 1028.0,695.0 1033.0,695.0 1038.0,695.0 1043.0,695.0 1048.0,695.0 1053.0,695.0 1058.0,695.0 1064.0,695.0 1069.0,695.0 1074.0,695.0 1079.0,695.0 1084.0,695.0 1089.0,695.0 1094.0,695.0 1099.0,695.0 1104.0,695.0 1109.0,695.0 1114.0,695.0 1119.0,695.0 1125.0,695.0 1130.0,695.0 1135.0,695.0 1140.0,695.0 1145.0,695.0 1150.0,695.0 1155.0,695.0 1160.0,695.0 1165.0,695.0 1170.0,695.0 1170.0,695" fill="url(#gos)"/>
<polyline points="5.9,633.3 11.0,641.2 16.0,649.1 21.0,650.2 26.0,661.1 31.0,663.3 36.0,667.8 41.0,669.4 47.0,682.3 52.0,675.5 57.0,672.1 62.0,671.7 67.0,671.0 72.0,666.5 77.0,671.0 82.0,678.4 87.0,682.3 92.0,675.5 97.0,678.4 103.0,674.6 108.0,676.2 113.0,676.2 118.0,676.2 123.0,648.0 128.0,656.5 133.0,655.2 138.0,660.4 143.0,632.2 148.0,625.0 153.0,638.5 158.0,650.2 164.0,652.5 169.0,646.2 174.0,654.3 179.0,673.2 184.0,673.2 189.0,674.1 194.0,676.2 199.0,676.6 204.0,669.0 209.0,678.4 214.0,667.8 219.0,656.5 225.0,673.9 230.0,683.6 235.0,683.6 240.0,683.6 245.0,683.6 250.0,688.6 255.0,676.9 260.0,675.9 265.0,665.1 270.0,665.3 275.0,662.9 280.0,669.9 286.0,669.2 291.0,694.9 296.0,710.0 301.0,725.8 306.0,715.7 311.0,657.5 316.0,664.9 321.0,676.9 326.0,662.6 331.0,631.1 336.0,643.9 341.0,650.7 347.0,636.2 352.0,638.5 357.0,653.6 362.0,654.7 367.0,663.3 372.0,671.7 377.0,676.2 382.0,675.0 387.0,677.3 392.0,677.8 397.0,672.1 403.0,676.6 408.0,672.8 413.0,675.3 418.0,675.5 423.0,688.1 428.0,699.9 433.0,698.7 438.0,684.5 443.0,682.3 448.0,680.7 453.0,661.5 458.0,679.6 464.0,668.7 469.0,662.6 474.0,667.2 479.0,671.2 484.0,666.5 489.0,665.3 494.0,670.5 499.0,666.0 504.0,669.4 509.0,670.5 514.0,657.5 519.0,627.0 525.0,635.1 530.0,607.8 535.0,641.2 540.0,655.2 545.0,657.0 550.0,661.5 555.0,653.6 560.0,653.8 565.0,657.7 570.0,671.9 575.0,672.1 580.0,676.2 586.0,677.8 591.0,671.7 596.0,668.3 601.0,671.9 606.0,672.1 611.0,693.5 616.0,690.8 621.0,698.1 626.0,681.8 631.0,670.1 636.0,654.7 642.0,639.4 647.0,626.5 652.0,624.3 657.0,621.4 662.0,632.2 667.0,603.3 672.0,618.2 677.0,611.4 682.0,630.4 687.0,614.6 692.0,620.9 697.0,624.3 703.0,593.8 708.0,599.5 713.0,587.1 718.0,591.6 723.0,571.3 728.0,585.3 733.0,570.8 738.0,583.7 743.0,576.9 748.0,590.5 753.0,611.9 758.0,593.8 764.0,621.4 769.0,626.5 774.0,630.4 779.0,623.6 784.0,627.7 789.0,651.4 794.0,628.8 799.0,617.5 804.0,606.9 809.0,599.5 814.0,609.2 819.0,626.5 825.0,619.1 830.0,625.9 835.0,627.7 840.0,621.4 845.0,617.5 850.0,622.0 855.0,617.5 860.0,611.9 865.0,624.3 870.0,606.2 875.0,596.5 880.0,609.2 886.0,605.1 891.0,634.0 896.0,623.6 901.0,626.1 906.0,626.1 911.0,642.3 916.0,636.2 921.0,645.3 926.0,645.3 931.0,618.2 936.0,614.8 942.0,614.8 947.0,612.3 952.0,593.8 957.0,613.7 962.0,587.1 967.0,575.3 972.0,597.2 977.0,609.6 982.0,607.4 987.0,607.4 992.0,620.5 997.0,602.9 1003.0,590.5 1008.0,613.0 1013.0,610.8 1018.0,601.1 1023.0,623.2 1028.0,632.2 1033.0,618.7 1038.0,635.1 1043.0,625.4 1048.0,585.9 1053.0,578.0 1058.0,567.9 1064.0,577.6 1069.0,567.9 1074.0,590.0 1079.0,588.2 1084.0,614.1 1089.0,613.5 1094.0,624.3 1099.0,632.2 1104.0,629.9 1109.0,614.1 1114.0,601.1 1119.0,622.0 1125.0,593.8 1130.0,603.3 1135.0,613.5 1140.0,593.4 1145.0,596.1 1150.0,600.2 1155.0,599.9 1160.0,609.6 1165.0,614.6 1170.0,604.8" fill="none" stroke="#9d57c3" stroke-width="3" stroke-linejoin="round" stroke-linecap="round"/>
</g>
<text x="17.8" y="45.6" font-size="12" fill="#131722" textLength="16.4" lengthAdjust="spacingAndGlyphs">SUI</text>
<text x="42.4" y="45.6" font-size="12" fill="#131722" text-anchor="middle">/</text>
<text x="48.9" y="45.6" font-size="12" fill="#131722" textLength="51.3" lengthAdjust="spacingAndGlyphs">TetherUS,</text>
<text x="105.8" y="45.6" font-size="12" fill="#131722" textLength="16.3" lengthAdjust="spacingAndGlyphs">1D,</text>
<text x="126.3" y="45.6" font-size="12" fill="#131722" textLength="45.3" lengthAdjust="spacingAndGlyphs">BINANCE</text>
<text x="179.7" y="45.6" font-size="12" fill="#131722" textLength="7.6" lengthAdjust="spacingAndGlyphs">O</text>
<text x="188.6" y="45.6" font-size="12" fill="#26a69a" textLength="34.8" lengthAdjust="spacingAndGlyphs">1.4376</text>
<text x="231.8" y="45.6" font-size="12" fill="#131722" textLength="6.2" lengthAdjust="spacingAndGlyphs">H</text>
<text x="239.5" y="45.6" font-size="12" fill="#26a69a" textLength="34.8" lengthAdjust="spacingAndGlyphs">1.5403</text>
<text x="282.5" y="45.6" font-size="12" fill="#131722" textLength="4.6" lengthAdjust="spacingAndGlyphs">L</text>
<text x="289.0" y="45.6" font-size="12" fill="#26a69a" textLength="34.6" lengthAdjust="spacingAndGlyphs">1.4237</text>
<text x="331.4" y="45.6" font-size="12" fill="#131722" textLength="6.4" lengthAdjust="spacingAndGlyphs">C</text>
<text x="339.6" y="45.6" font-size="12" fill="#26a69a" textLength="34.4" lengthAdjust="spacingAndGlyphs">1.5275</text>
<text x="382.0" y="45.6" font-size="12" fill="#26a69a" textLength="90.0" lengthAdjust="spacingAndGlyphs">+0.0898 (+6.25%)</text>
<text x="17.8" y="62.6" font-size="12" fill="#131722" textLength="22.1" lengthAdjust="spacingAndGlyphs">EMA</text>
<text x="44.6" y="62.6" font-size="12" fill="#131722" textLength="19.7" lengthAdjust="spacingAndGlyphs">(20,</text>
<text x="68.4" y="62.6" font-size="12" fill="#131722" textLength="29.1" lengthAdjust="spacingAndGlyphs">close,</text>
<text x="103.7" y="62.6" font-size="12" fill="#131722" textLength="9.5" lengthAdjust="spacingAndGlyphs">0,</text>
<text x="118.3" y="62.6" font-size="12" fill="#131722" textLength="24.9" lengthAdjust="spacingAndGlyphs">SMA,</text>
<text x="148.1" y="62.6" font-size="12" fill="#131722" textLength="9.7" lengthAdjust="spacingAndGlyphs">5)</text>
<text x="166.0" y="62.6" font-size="12" fill="#2962ff" textLength="35.6" lengthAdjust="spacingAndGlyphs">1.3434</text>
<text x="17.8" y="79.6" font-size="12" fill="#131722" textLength="21.2" lengthAdjust="spacingAndGlyphs">SMA</text>
<text x="43.6" y="79.6" font-size="12" fill="#131722" textLength="20.1" lengthAdjust="spacingAndGlyphs">(50,</text>
<text x="67.7" y="79.6" font-size="12" fill="#131722" textLength="29.1" lengthAdjust="spacingAndGlyphs">close,</text>
<text x="103.1" y="79.6" font-size="12" fill="#131722" textLength="9.3" lengthAdjust="spacingAndGlyphs">0,</text>
<text x="117.6" y="79.6" font-size="12" fill="#131722" textLength="25.0" lengthAdjust="spacingAndGlyphs">SMA,</text>
<text x="147.4" y="79.6" font-size="12" fill="#131722" textLength="9.7" lengthAdjust="spacingAndGlyphs">5)</text>
<text x="166.0" y="79.6" font-size="12" fill="#f23645" textLength="34.0" lengthAdjust="spacingAndGlyphs">1.0471</text>
<text x="17.8" y="578.0" font-size="12" fill="#131722" textLength="15.9" lengthAdjust="spacingAndGlyphs">RSI</text>
<text x="38.6" y="578.0" font-size="12" fill="#131722" textLength="20.2" lengthAdjust="spacingAndGlyphs">(14,</text>
<text x="62.9" y="578.0" font-size="12" fill="#131722" textLength="30.8" lengthAdjust="spacingAndGlyphs">close,</text>
<text x="97.7" y="578.0" font-size="12" fill="#131722" textLength="25.0" lengthAdjust="spacingAndGlyphs">SMA,</text>
<text x="128.1" y="578.0" font-size="12" fill="#131722" textLength="15.9" lengthAdjust="spacingAndGlyphs">14,</text>
<text x="148.6" y="578.0" font-size="12" fill="#131722" textLength="9.8" lengthAdjust="spacingAndGlyphs">2)</text>
<text x="166.0" y="578.0" font-size="12" fill="#9d57c3" textLength="29.3" lengthAdjust="spacingAndGlyphs">62.95</text>
<text x="203.8" y="578.3" font-size="11.5" fill="#131722" textLength="7.0" lengthAdjust="spacingAndGlyphs" font-family="DejaVu Sans, sans-serif">∅</text>
<text x="218.7" y="578.3" font-size="11.5" fill="#131722" textLength="7.0" lengthAdjust="spacingAndGlyphs" font-family="DejaVu Sans, sans-serif">∅</text>
<text x="233.8" y="578.3" font-size="11.5" fill="#131722" textLength="7.0" lengthAdjust="spacingAndGlyphs" font-family="DejaVu Sans, sans-serif">∅</text>
<text x="249.7" y="578.3" font-size="11.5" fill="#131722" textLength="7.0" lengthAdjust="spacingAndGlyphs" font-family="DejaVu Sans, sans-serif">∅</text>
<text x="1273.6" y="76.9" font-size="12" fill="#131722" textLength="35.0" lengthAdjust="spacingAndGlyphs">1.6000</text>
<text x="1273.6" y="187.9" font-size="12" fill="#131722" textLength="35.0" lengthAdjust="spacingAndGlyphs">1.3000</text>
<text x="1273.6" y="224.9" font-size="12" fill="#131722" textLength="35.0" lengthAdjust="spacingAndGlyphs">1.2000</text>
<text x="1273.6" y="261.9" font-size="12" fill="#131722" textLength="35.0" lengthAdjust="spacingAndGlyphs">1.1000</text>
<text x="1273.6" y="298.9" font-size="12" fill="#131722" textLength="35.0" lengthAdjust="spacingAndGlyphs">1.0000</text>
<text x="1273.6" y="335.9" font-size="12" fill="#131722" textLength="35.0" lengthAdjust="spacingAndGlyphs">0.9000</text>
<text x="1273.6" y="372.9" font-size="12" fill="#131722" textLength="35.0" lengthAdjust="spacingAndGlyphs">0.8000</text>
<text x="1273.6" y="409.9" font-size="12" fill="#131722" textLength="35.0" lengthAdjust="spacingAndGlyphs">0.7000</text>
<text x="1273.6" y="446.9" font-size="12" fill="#131722" textLength="35.0" lengthAdjust="spacingAndGlyphs">0.6000</text>
<text x="1273.6" y="483.9" font-size="12" fill="#131722" textLength="35.0" lengthAdjust="spacingAndGlyphs">0.5000</text>
<text x="1273.6" y="520.9" font-size="12" fill="#131722" textLength="35.0" lengthAdjust="spacingAndGlyphs">0.4000</text>
<text x="1273.6" y="557.9" font-size="12" fill="#131722" textLength="35.0" lengthAdjust="spacingAndGlyphs">0.3000</text>
<text x="1273.6" y="617.9" font-size="12" fill="#131722" textLength="29.3" lengthAdjust="spacingAndGlyphs">60.00</text>
<text x="1273.6" y="671.9" font-size="12" fill="#131722" textLength="29.3" lengthAdjust="spacingAndGlyphs">40.00</text>
<text x="1273.6" y="726.9" font-size="12" fill="#131722" textLength="29.3" lengthAdjust="spacingAndGlyphs">20.00</text>
<rect x="1269.3" y="31.2" width="59.4" height="25.8" rx="4.5" ry="4.5" fill="#fff" stroke="#e8eaf2" stroke-width="1.5"/>
<text x="1277.9" y="48.5" font-size="12" fill="#131722" textLength="27.8" lengthAdjust="spacingAndGlyphs">USDT</text>
<rect x="1210.0" y="91.0" width="54.0" height="17.0" rx="2" ry="2" fill="#26a69a"/>
<text x="1214.2" y="103.8" font-size="12" fill="#ffffff" font-weight="bold" textLength="45.0" lengthAdjust="spacingAndGlyphs">SUIUSDT</text>
<rect x="1265.0" y="91.0" width="60.0" height="45.0" rx="2" ry="2" fill="#26a69a"/>
<text x="1273.6" y="103.8" font-size="12" fill="#ffffff" font-weight="bold" textLength="35.0" lengthAdjust="spacingAndGlyphs">1.5275</text>
<text x="1273.6" y="117.8" font-size="12" fill="#ffffff" font-weight="bold" textLength="42.5" lengthAdjust="spacingAndGlyphs">+86.51%</text>
<text x="1273.6" y="131.8" font-size="12" fill="#ffffff" font-weight="bold" textLength="46.0" lengthAdjust="spacingAndGlyphs" fill-opacity="0.68">06:55:37</text>
<rect x="1265.0" y="136.0" width="49.0" height="17.0" rx="2" ry="2" fill="#0000ff"/>
<text x="1273.6" y="148.8" font-size="12" fill="#ffffff" font-weight="bold" textLength="35.0" lengthAdjust="spacingAndGlyphs">1.5000</text>
<rect x="1232.0" y="159.0" width="32.0" height="17.0" rx="2" ry="2" fill="#2962ff"/>
<text x="1237.0" y="171.6" font-size="12" fill="#ffffff" font-weight="bold" textLength="22.5" lengthAdjust="spacingAndGlyphs">EMA</text>
<rect x="1265.0" y="159.0" width="49.0" height="17.0" rx="2" ry="2" fill="#2962ff"/>
<text x="1273.6" y="171.6" font-size="12" fill="#ffffff" font-weight="bold" textLength="35.0" lengthAdjust="spacingAndGlyphs">1.3434</text>
<rect x="1213.0" y="269.0" width="51.0" height="17.0" rx="2" ry="2" fill="#f23645"/>
<text x="1217.8" y="281.6" font-size="12" fill="#ffffff" font-weight="bold" textLength="41.5" lengthAdjust="spacingAndGlyphs">SMA:MA</text>
<rect x="1265.0" y="269.0" width="49.0" height="17.0" rx="2" ry="2" fill="#f23645"/>
<text x="1273.6" y="281.6" font-size="12" fill="#ffffff" font-weight="bold" textLength="34.5" lengthAdjust="spacingAndGlyphs">1.0471</text>
<rect x="1237.3" y="596.3" width="71.4" height="18.4" fill="#fff" fill-opacity="0.75" rx="3"/>
<rect x="1238.0" y="597.0" width="26.0" height="17.0" rx="2" ry="2" fill="#9d57c3"/>
<text x="1243.0" y="609.6" font-size="12" fill="#ffffff" font-weight="bold" textLength="16.0" lengthAdjust="spacingAndGlyphs">RSI</text>
<rect x="1265.0" y="597.0" width="43.0" height="17.0" rx="2" ry="2" fill="#9d57c3"/>
<text x="1273.0" y="609.6" font-size="12" fill="#ffffff" font-weight="bold" textLength="29.5" lengthAdjust="spacingAndGlyphs">62.95</text>
<text x="54.1" y="753.0" font-size="12" fill="#131722" textLength="15.6" lengthAdjust="spacingAndGlyphs">Jul</text>
<text x="209.6" y="753.0" font-size="12" fill="#131722" textLength="19.8" lengthAdjust="spacingAndGlyphs">Aug</text>
<text x="367.8" y="753.0" font-size="12" fill="#131722" textLength="19.4" lengthAdjust="spacingAndGlyphs">Sep</text>
<text x="520.4" y="753.0" font-size="12" fill="#131722" textLength="18.7" lengthAdjust="spacingAndGlyphs">Oct</text>
<text x="677.2" y="753.0" font-size="12" fill="#131722" textLength="20.5" lengthAdjust="spacingAndGlyphs">Nov</text>
<text x="830.6" y="753.0" font-size="12" fill="#131722" textLength="18.6" lengthAdjust="spacingAndGlyphs">Dec</text>
<text x="983.8" y="753.0" font-size="12" fill="#131722" font-weight="bold" textLength="27.8" lengthAdjust="spacingAndGlyphs">2024</text>
<text x="1145.4" y="753.0" font-size="12" fill="#131722" textLength="20.0" lengthAdjust="spacingAndGlyphs">Feb</text>
<text x="1240.8" y="753.0" font-size="12" fill="#131722" textLength="12.3" lengthAdjust="spacingAndGlyphs">19</text>
<rect x="10" y="27" width="1323" height="736" fill="none" stroke="rgb(226,231,245)" stroke-opacity="0.55" stroke-width="2"/>
<circle cx="1170.6" cy="545.4" r="10.4" fill="#fff"/>
<path d="M1179.95 542.82 A9.7 9.7 0 1 1 1173.29 536.08" fill="none" stroke="#8e1fae" stroke-width="1.5" stroke-linecap="round"/>
<path d="M1172.9 540.2 L1166.3 545.5 L1169.9 545.6 L1167.2 550.6 L1174.6 545.2 L1171.0 545.0 Z" fill="#8e1fae"/>
<circle cx="1177.4" cy="538.6" r="2.5" fill="#f23645"/>
<g fill="#131722"><path d="M9.9 775.2H18.1V784.8H13.2V779.1H9.9Z"/><circle cx="21.5" cy="776.8" r="1.6"/><path d="M25.1 775.2H29.7L26.1 784.8H21.4Z"/></g>
<text x="33.6" y="784.8" font-size="12.6" fill="#3a3e49" textLength="69.3" lengthAdjust="spacingAndGlyphs">TradingView</text>
</svg></body></html>
